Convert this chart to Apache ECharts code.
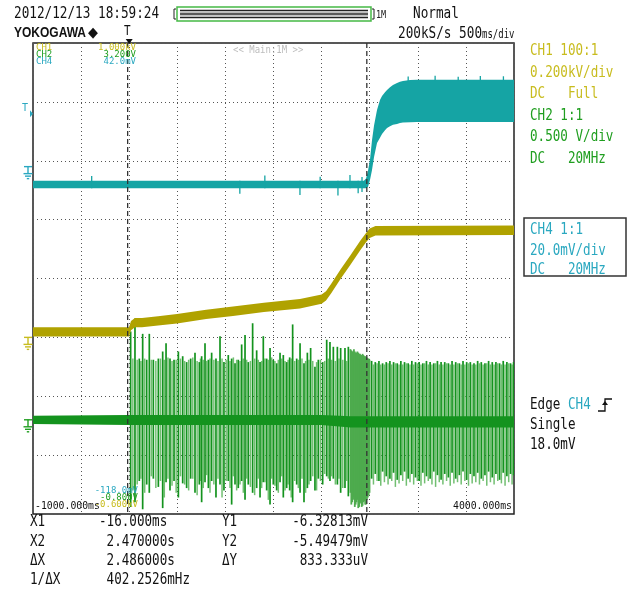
<!DOCTYPE html>
<html>
<head>
<meta charset="utf-8">
<script src="https://cdn.jsdelivr.net/npm/echarts@6/dist/echarts.min.js"></script>
<style>
  html, body { margin: 0; padding: 0; background: #fff; }
  #c { width: 629px; height: 590px; }
</style>
</head>
<body>
<div id="c"></div>
<script>
// ---- Time base (ms) ----
const timeMin = -1000, timeMax = 4000, timeDiv = 500;
const triggerTime = 0;
// ---- Screen range of each channel (bottom, top) ----
const ch1Range = [-0.6, 1.0];   // kV  (0.200 kV/div)
const ch2Range = [-0.8, 3.2];   // V   (0.500 V/div)
const ch4Range = [-118, 42];    // mV  (20.0 mV/div)
const trigLevel = 18.0;         // mV on CH4
// ---- Cursors ----
const cursorX = [-16, 2470];    // ms

// ---- CH4 (cyan) envelope, mV ----
const cyanT  = [-1000, 2440, 2462, 2482, 2503, 2524, 2545, 2576, 2607, 2628, 2659, 2680, 2711, 2742, 2784, 2815, 2846, 2919, 2992, 4000];
const cyanHi = [-4.8, -4.8, -4.0, -1.5, 2.3, 9.0, 14.0, 19.2, 22.6, 24.0, 25.3, 26.0, 27.0, 27.7, 28.4, 28.8, 29.1, 29.4, 29.5, 29.5];
const cyanLo = [-7.3, -7.3, -7.3, -6.9, -4.5, -1.1, 3.3, 8.0, 9.8, 11.1, 12.4, 13.1, 13.7, 14.2, 14.5, 14.8, 15.0, 15.1, 15.2, 15.2];
// CH4 noise ticks
const cyanNoiseT  = [-390, 1150, 1410, 1775, 1985, 2170, 2295, 2380, 2420, 2900, 3180, 3420, 3650, 3890];
const cyanNoiseHi = [-3.2, -4.8, -3.0, -4.8, -3.4, -4.8, -2.8, -4.8, -3.5, 30.6, 30.9, 30.5, 30.8, 30.7];
const cyanNoiseLo = [-7.3, -9.2, -7.3, -9.6, -7.3, -9.8, -7.3, -9.0, -8.6, 29.0, 29.0, 29.0, 29.0, 29.0];

// ---- CH1 (yellow) envelope, kV ----
const yellowT  = [-1000, -2, 19, 60, 133, 300, 497, 800, 1079, 1400, 1775, 2000, 2046, 2100, 2200, 2300, 2400, 2460, 2500, 2560, 4000];
const yellowHi = [0.034, 0.034, 0.056, 0.066, 0.066, 0.072, 0.079, 0.094, 0.105, 0.118, 0.130, 0.146, 0.157, 0.182, 0.232, 0.279, 0.327, 0.354, 0.370, 0.378, 0.380];
const yellowLo = [0.003, 0.003, 0.024, 0.034, 0.034, 0.040, 0.047, 0.062, 0.073, 0.086, 0.098, 0.114, 0.125, 0.150, 0.200, 0.247, 0.295, 0.322, 0.338, 0.346, 0.348];

// ---- CH2 (green) baseline band, V ----
const greenBaseT  = [-1000, 0, 2000, 2300, 4000];
const greenBaseHi = [0.035, 0.040, 0.040, 0.030, 0.030];
const greenBaseLo = [-0.035, -0.045, -0.045, -0.065, -0.065];

// ---- CH2 switching bursts: main strokes (t ms, top V, bottom V) ----
const greenSpikeT = [
  15, 60, 105, 140, 182, 209, 251, 303, 348, 383,
  424, 466, 511, 556, 597, 639, 684, 729, 753, 788,
  823, 857, 902, 944, 985, 1030, 1065, 1100, 1134, 1169,
  1204, 1238, 1283, 1325, 1360, 1394, 1429, 1464, 1498, 1533,
  1568, 1602, 1637, 1668, 1699, 1741, 1776, 1817, 1852, 1886,
  1931, 1966, 2011, 2053, 2087, 2122, 2164, 2198, 2243, 2278,
  2520, 2558, 2596, 2634, 2672, 2710, 2748, 2786, 2824, 2862,
  2900, 2938, 2976, 3014, 3052, 3090, 3128, 3166, 3204, 3242,
  3280, 3318, 3356, 3394, 3432, 3470, 3508, 3546, 3584, 3622,
  3660, 3698, 3736, 3774, 3812, 3850, 3888, 3926, 3964, 3996
];
const greenSpikeHi = [
  0.75, 0.86, 0.52, 0.73, 0.51, 0.73, 0.51, 0.52, 0.58, 0.65,
  0.52, 0.51, 0.58, 0.54, 0.49, 0.52, 0.57, 0.49, 0.54, 0.65,
  0.51, 0.57, 0.52, 0.71, 0.49, 0.55, 0.52, 0.48, 0.51, 0.64,
  0.72, 0.49, 0.82, 0.59, 0.49, 0.71, 0.52, 0.61, 0.51, 0.48,
  0.57, 0.55, 0.49, 0.53, 0.81, 0.52, 0.65, 0.48, 0.57, 0.61,
  0.45, 0.51, 0.49, 0.68, 0.66, 0.62, 0.62, 0.61, 0.61, 0.62,
  0.50, 0.49, 0.50, 0.48, 0.49, 0.50, 0.49, 0.48, 0.50, 0.49,
  0.48, 0.50, 0.49, 0.49, 0.48, 0.50, 0.49, 0.48, 0.50, 0.49,
  0.49, 0.48, 0.50, 0.49, 0.48, 0.50, 0.49, 0.49, 0.48, 0.50,
  0.49, 0.48, 0.50, 0.49, 0.49, 0.48, 0.50, 0.49, 0.48, 0.49
];
const greenSpikeLo = [
  -0.74, -0.70, -0.52, -0.76, -0.55, -0.62, -0.50, -0.57, -0.75, -0.53,
  -0.60, -0.52, -0.66, -0.54, -0.58, -0.50, -0.62, -0.55, -0.70, -0.53,
  -0.58, -0.52, -0.66, -0.55, -0.60, -0.52, -0.72, -0.55, -0.58, -0.52,
  -0.68, -0.55, -0.62, -0.58, -0.66, -0.53, -0.60, -0.72, -0.55, -0.60,
  -0.53, -0.66, -0.58, -0.60, -0.70, -0.55, -0.62, -0.70, -0.58, -0.52,
  -0.60, -0.50, -0.55, -0.48, -0.52, -0.50, -0.55, -0.62, -0.58, -0.65,
  -0.50, -0.46, -0.52, -0.44, -0.48, -0.50, -0.45, -0.51, -0.47, -0.44,
  -0.50, -0.46, -0.49, -0.52, -0.45, -0.48, -0.50, -0.44, -0.47, -0.51,
  -0.46, -0.49, -0.45, -0.50, -0.47, -0.44, -0.51, -0.46, -0.48, -0.45,
  -0.50, -0.47, -0.44, -0.49, -0.46, -0.51, -0.45, -0.48, -0.46, -0.47
];

// ---- CH2 dense burst just before the CH4 edge ----
const greenDenseT  = [2300, 2309, 2318, 2327, 2336, 2345, 2354, 2363, 2372, 2381, 2390, 2399, 2408, 2417, 2426, 2435, 2444, 2453, 2462, 2471, 2480, 2489, 2498];
const greenDenseHi = [0.60, 0.59, 0.58, 0.58, 0.60, 0.58, 0.57, 0.57, 0.58, 0.57, 0.56, 0.56, 0.55, 0.55, 0.56, 0.55, 0.54, 0.54, 0.53, 0.53, 0.52, 0.52, 0.51];
const greenDenseLo = [-0.62, -0.72, -0.70, -0.68, -0.66, -0.74, -0.72, -0.70, -0.68, -0.75, -0.74, -0.71, -0.70, -0.74, -0.73, -0.70, -0.69, -0.72, -0.72, -0.68, -0.66, -0.64, -0.62];

// ---- CH2 fainter in-between strokes ----
const greenFaintT = [
  38, 83, 122, 161, 230, 277, 325, 365, 403, 445,
  488, 533, 576, 618, 661, 706, 741, 770, 805, 840,
  880, 923, 965, 1008, 1048, 1083, 1117, 1152, 1186, 1221,
  1260, 1304, 1342, 1377, 1411, 1446, 1481, 1515, 1550, 1585,
  1620, 1652, 1684, 1720, 1758, 1796, 1834, 1869, 1908, 1948,
  1988, 2032, 2070, 2104, 2143, 2181, 2220, 2260,
  2539, 2577, 2615, 2653, 2691, 2729, 2767, 2805, 2843, 2881,
  2919, 2957, 2995, 3033, 3071, 3109, 3147, 3185, 3223, 3261,
  3299, 3337, 3375, 3413, 3451, 3489, 3527, 3565, 3603, 3641,
  3679, 3717, 3755, 3793, 3831, 3869, 3907, 3945, 3980
];
const greenFaintHi = [
  0.52, 0.51, 0.50, 0.52, 0.51, 0.50, 0.52, 0.51, 0.53, 0.50,
  0.51, 0.52, 0.50, 0.51, 0.53, 0.50, 0.52, 0.51, 0.50, 0.52,
  0.51, 0.50, 0.52, 0.51, 0.50, 0.53, 0.51, 0.50, 0.52, 0.51,
  0.50, 0.52, 0.51, 0.50, 0.52, 0.51, 0.53, 0.50, 0.51, 0.52,
  0.50, 0.51, 0.52, 0.50, 0.51, 0.52, 0.50, 0.51, 0.50, 0.49,
  0.51, 0.50, 0.52, 0.51, 0.50, 0.52, 0.51, 0.50,
  0.47, 0.48, 0.47, 0.47, 0.48, 0.47, 0.48, 0.47, 0.47, 0.48,
  0.47, 0.47, 0.48, 0.47, 0.48, 0.47, 0.47, 0.48, 0.47, 0.47,
  0.48, 0.47, 0.47, 0.48, 0.47, 0.47, 0.48, 0.47, 0.47, 0.48,
  0.47, 0.48, 0.47, 0.47, 0.48, 0.47, 0.47, 0.48, 0.47
];
const greenFaintLo = [
  -0.60, -0.55, -0.50, -0.62, -0.48, -0.58, -0.52, -0.66, -0.50, -0.56,
  -0.62, -0.48, -0.55, -0.60, -0.50, -0.64, -0.52, -0.58, -0.47, -0.62,
  -0.55, -0.50, -0.66, -0.52, -0.58, -0.48, -0.60, -0.55, -0.62, -0.50,
  -0.57, -0.64, -0.50, -0.58, -0.53, -0.68, -0.50, -0.56, -0.62, -0.48,
  -0.60, -0.55, -0.66, -0.52, -0.58, -0.50, -0.62, -0.55, -0.48, -0.60,
  -0.52, -0.46, -0.50, -0.48, -0.55, -0.50, -0.58, -0.52,
  -0.55, -0.52, -0.56, -0.53, -0.55, -0.52, -0.57, -0.54, -0.52, -0.56,
  -0.53, -0.55, -0.52, -0.56, -0.54, -0.52, -0.55, -0.57, -0.53, -0.55,
  -0.52, -0.56, -0.54, -0.53, -0.55, -0.52, -0.56, -0.54, -0.53, -0.55,
  -0.52, -0.56, -0.53, -0.55, -0.52, -0.54, -0.56, -0.53, -0.55
];

// ---- Colours ----
const COL = {
  ch1Trace: '#b0a200', ch1Text: '#c8bc1e',
  ch2Dark: '#14931e', ch2Mid: '#4eab4e', ch2Faint: '#72bf72', ch2Text: '#1f9e1f',
  ch4Trace: '#15a4a4', ch4Text: '#2aa8c0',
  grid: '#555'
};
const MONO = '"DejaVu Sans Mono", "Liberation Mono", monospace';

// Envelope polygon drawn between Hi and Lo curves
function bandRenderer(T, Hi, Lo, color) {
  return function (params, api) {
    const pts = [];
    for (let i = 0; i < T.length; i++) pts.push(api.coord([T[i], Hi[i]]));
    for (let i = T.length - 1; i >= 0; i--) pts.push(api.coord([T[i], Lo[i]]));
    return { type: 'polygon', shape: { points: pts }, style: { fill: color } };
  };
}
// Vertical stroke from value(1) to value(2) at time value(0)
function strokeRenderer(color, width) {
  return function (params, api) {
    const a = api.coord([api.value(0), api.value(1)]);
    const b = api.coord([api.value(0), api.value(2)]);
    return { type: 'line', shape: { x1: a[0], y1: a[1], x2: b[0], y2: b[1] },
             style: { stroke: color, lineWidth: width } };
  };
}
function rows(T, Hi, Lo) { return T.map((t, i) => [t, Hi[i], Lo[i]]); }

// Ground reference symbol at the channel's 0 level, left of the screen
function groundRenderer(color) {
  return function (params, api) {
    const p = api.coord([timeMin, 0]);
    const x = p[0] - 5, y = p[1];
    const ln = (x1, y1, x2, y2) => ({ type: 'line', shape: { x1, y1, x2, y2 }, style: { stroke: color, lineWidth: 1.4 } });
    return { type: 'group', children: [
      ln(x - 4, y, x + 4, y), ln(x, y, x, y + 7),
      ln(x - 4.5, y + 7, x + 4.5, y + 7), ln(x - 3, y + 9.5, x + 3, y + 9.5), ln(x - 1.2, y + 12, x + 1.2, y + 12)
    ] };
  };
}

const chart = echarts.init(document.getElementById('c'), null, { renderer: 'canvas' });

const hiddenY = (r) => ({ type: 'value', min: r[0], max: r[1], show: false, splitLine: { show: false } });

const option = {
  animation: false,
  backgroundColor: '#ffffff',
  grid: { left: 33, top: 43, width: 481, height: 471, show: true, borderColor: '#222', borderWidth: 1.5, backgroundColor: '#fff' },
  xAxis: {
    type: 'value', min: timeMin, max: timeMax, interval: timeDiv,
    axisLine: { show: false }, axisTick: { show: false }, axisLabel: { show: false },
    splitLine: { show: true, lineStyle: { color: COL.grid, type: [1, 3], width: 1 } }
  },
  yAxis: [
    { type: 'value', min: -4, max: 4, interval: 1,
      axisLine: { show: false }, axisTick: { show: false }, axisLabel: { show: false },
      splitLine: { show: true, lineStyle: { color: COL.grid, type: [1, 3], width: 1 } } },
    hiddenY(ch1Range), hiddenY(ch2Range), hiddenY(ch4Range)
  ],
  series: [
    { type: 'custom', name: 'CH2 faint', yAxisIndex: 2, z: 2, clip: true,
      renderItem: strokeRenderer(COL.ch2Faint, 1.5), encode: { x: 0, y: [1, 2] },
      data: rows(greenFaintT, greenFaintHi, greenFaintLo) },
    { type: 'custom', name: 'CH2 dense', yAxisIndex: 2, z: 2, clip: true,
      renderItem: strokeRenderer(COL.ch2Mid, 1.8), encode: { x: 0, y: [1, 2] },
      data: rows(greenDenseT, greenDenseHi, greenDenseLo) },
    { type: 'custom', name: 'CH2', yAxisIndex: 2, z: 3, clip: true,
      renderItem: strokeRenderer(COL.ch2Dark, 1.7), encode: { x: 0, y: [1, 2] },
      data: rows(greenSpikeT, greenSpikeHi, greenSpikeLo) },
    { type: 'custom', name: 'CH2 base', yAxisIndex: 2, z: 4, clip: true,
      renderItem: bandRenderer(greenBaseT, greenBaseHi, greenBaseLo, COL.ch2Dark), encode: { x: 0, y: 1 },
      data: [[greenBaseT[0], greenBaseHi[0]]] },
    { type: 'custom', name: 'CH1', yAxisIndex: 1, z: 5, clip: true,
      renderItem: bandRenderer(yellowT, yellowHi, yellowLo, COL.ch1Trace), encode: { x: 0, y: 1 },
      data: [[yellowT[0], yellowHi[0]]] },
    { type: 'custom', name: 'CH4', yAxisIndex: 3, z: 6, clip: true,
      renderItem: bandRenderer(cyanT, cyanHi, cyanLo, COL.ch4Trace), encode: { x: 0, y: 1 },
      data: [[cyanT[0], cyanHi[0]]] },
    { type: 'custom', name: 'CH4 noise', yAxisIndex: 3, z: 6, clip: true,
      renderItem: strokeRenderer(COL.ch4Trace, 1.3), encode: { x: 0, y: [1, 2] },
      data: rows(cyanNoiseT, cyanNoiseHi, cyanNoiseLo) },
    // time cursors X1 / X2
    { type: 'custom', name: 'cursors', yAxisIndex: 0, z: 8, clip: true,
      renderItem: function (params, api) {
        const a = api.coord([api.value(0), 4]);
        const b = api.coord([api.value(0), -4]);
        return { type: 'line', shape: { x1: a[0], y1: a[1], x2: b[0], y2: b[1] },
                 style: { stroke: '#333', lineWidth: 1.3, lineDash: [5, 3] } };
      },
      encode: { x: 0, y: 1 }, data: cursorX.map(v => [v, 0]) },
    // ground symbols
    { type: 'custom', yAxisIndex: 1, z: 9, clip: false, renderItem: groundRenderer(COL.ch1Text), data: [[timeMin, 0]] },
    { type: 'custom', yAxisIndex: 2, z: 9, clip: false, renderItem: groundRenderer(COL.ch2Text), data: [[timeMin, 0]] },
    { type: 'custom', yAxisIndex: 3, z: 9, clip: false, renderItem: groundRenderer(COL.ch4Text), data: [[timeMin, 0]] },
    // trigger level marker on CH4
    { type: 'custom', yAxisIndex: 3, z: 9, clip: false,
      renderItem: function (params, api) {
        const p = api.coord([timeMin, api.value(1)]);
        return { type: 'group', children: [
          { type: 'text', x: p[0] - 8, y: p[1] - 5, style: { text: 'T', fill: COL.ch4Text, font: '10px ' + MONO, textAlign: 'center', textVerticalAlign: 'middle' } },
          { type: 'polygon', shape: { points: [[p[0] - 3, p[1] - 3.5], [p[0], p[1]], [p[0] - 3, p[1] + 3.5]] }, style: { fill: COL.ch4Text } }
        ] };
      },
      data: [[timeMin, trigLevel]] },
    // trigger position marker above the screen
    { type: 'custom', yAxisIndex: 0, z: 9, clip: false,
      renderItem: function (params, api) {
        const p = api.coord([api.value(0), 4]);
        return { type: 'group', children: [
          { type: 'text', x: p[0] - 2, y: p[1] - 11, scaleY: 1.2, style: { text: 'T', fill: '#111', font: '11px ' + MONO, textAlign: 'center', textVerticalAlign: 'middle' } },
          { type: 'polygon', shape: { points: [[p[0] - 3.5, p[1] - 4], [p[0] + 3.5, p[1] - 4], [p[0], p[1] + 1]] }, style: { fill: '#111' } }
        ] };
      },
      data: [[triggerTime, 4]] }
  ],
  graphic: []
};

// ---- Text and panel decorations ----
function txt(s, x, y, color, size, o) {
  o = o || {};
  return { type: 'text', x: x, y: y, scaleY: o.sy || 1.28, z: 100,
    style: { text: s, fill: color, font: (o.bold ? 'bold ' : '') + size + 'px ' + (o.family || MONO),
             textAlign: o.align || 'left', textVerticalAlign: 'middle' } };
}
const G = option.graphic;
// header
G.push(txt('2012/12/13 18:59:24', 14, 14, '#111', 12.7));
G.push(txt('Normal', 413, 14, '#111', 12.7));
G.push(txt('200kS/s 500', 398, 34, '#111', 12.7));
G.push(txt('ms/div', 482, 35, '#111', 9, { sy: 1.3 }));
G.push(txt('YOKOGAWA', 14, 33, '#111', 12, { bold: true, family: '"Liberation Sans", Arial, sans-serif', sy: 1.15 }));
G.push(txt('\u25C6', 88, 33, '#111', 13, { family: '"DejaVu Sans", sans-serif', sy: 1.1 }));
// memory bar
G.push({ type: 'rect', z: 100, shape: { x: 177, y: 7, width: 194, height: 14 }, style: { fill: '#fff', stroke: '#46b946', lineWidth: 1.5 } });
[10.5, 14, 17.5].forEach(y => G.push({ type: 'line', z: 101, shape: { x1: 180, y1: y, x2: 368, y2: y }, style: { stroke: '#222', lineWidth: 1.6 } }));
[12.3, 15.8].forEach(y => G.push({ type: 'line', z: 101, shape: { x1: 180, y1: y, x2: 368, y2: y }, style: { stroke: '#aaa', lineWidth: 1 } }));
G.push({ type: 'polyline', z: 101, shape: { points: [[176, 9], [174, 9], [174, 19], [176, 19]] }, style: { stroke: '#222', lineWidth: 1, fill: null } });
G.push({ type: 'polyline', z: 101, shape: { points: [[372, 9], [374, 9], [374, 19], [372, 19]] }, style: { stroke: '#222', lineWidth: 1, fill: null } });
G.push(txt('1M', 376, 15, '#222', 8.5, { sy: 1.3 }));

// on-screen channel range labels
G.push(txt('CH1', 36, 48, COL.ch1Text, 9, { sy: 1 }));
G.push(txt('CH2', 36, 55, COL.ch2Text, 9, { sy: 1 }));
G.push(txt('CH4', 36, 62, COL.ch4Text, 9, { sy: 1 }));
G.push(txt('1.000kV', 136, 48, COL.ch1Text, 9, { sy: 1, align: 'right' }));
G.push(txt('3.200V', 136, 55, COL.ch2Text, 9, { sy: 1, align: 'right' }));
G.push(txt('42.0mV', 136, 62, COL.ch4Text, 9, { sy: 1, align: 'right' }));
G.push(txt('<< Main:1M >>', 233, 50, '#bdbdbd', 9, { sy: 1.1 }));
G.push(txt('-118.0mV', 138, 491, COL.ch4Text, 9, { sy: 1, align: 'right' }));
G.push(txt('-0.800V', 138, 498, COL.ch2Text, 9, { sy: 1, align: 'right' }));
G.push(txt('-0.600kV', 138, 505, COL.ch1Text, 9, { sy: 1, align: 'right' }));
G.push(txt('-1000.000ms', 35, 506, '#111', 9.8, { sy: 1.15 }));
G.push(txt('4000.000ms', 512, 506, '#111', 9.8, { sy: 1.15, align: 'right' }));

// right-hand settings panel
G.push(txt('CH1 100:1', 530, 51, COL.ch1Text, 12.6));
G.push(txt('0.200kV/div', 530, 73, COL.ch1Text, 12.6));
G.push(txt('DC   Full', 530, 94, COL.ch1Text, 12.6));
G.push(txt('CH2 1:1', 530, 116, COL.ch2Text, 12.6));
G.push(txt('0.500 V/div', 530, 137, COL.ch2Text, 12.6));
G.push(txt('DC   20MHz', 530, 159, COL.ch2Text, 12.6));
G.push({ type: 'rect', z: 100, shape: { x: 524, y: 218, width: 102, height: 58 }, style: { fill: 'none', stroke: '#333', lineWidth: 1.5 } });
G.push(txt('CH4 1:1', 530, 230, COL.ch4Text, 12.6));
G.push(txt('20.0mV/div', 530, 251, COL.ch4Text, 12.6));
G.push(txt('DC   20MHz', 530, 270, COL.ch4Text, 12.6));
G.push(txt('Edge ', 530, 405, '#111', 12.6));
G.push(txt('CH4', 568, 405, COL.ch4Text, 12.6));
G.push({ type: 'polyline', z: 100, shape: { points: [[598, 411], [605, 411], [605, 399], [612, 399]] }, style: { stroke: '#111', lineWidth: 1.3, fill: null } });
G.push({ type: 'polygon', z: 100, shape: { points: [[602, 405], [608, 405], [605, 401]] }, style: { fill: '#111' } });
G.push(txt('Single', 530, 425, '#111', 12.6));
G.push(txt('18.0mV', 530, 445, '#111', 12.6));

// cursor readout
const rowY = [522, 542, 561, 580];
G.push(txt('X1', 30, rowY[0], '#111', 12.6));
G.push(txt('X2', 30, rowY[1], '#111', 12.6));
G.push(txt('\u0394X', 30, rowY[2], '#111', 12.6));
G.push(txt('1/\u0394X', 30, rowY[3], '#111', 12.6));
G.push(txt('-16.000ms', 99, rowY[0], '#111', 12.6));
G.push(txt(' 2.470000s', 99, rowY[1], '#111', 12.6));
G.push(txt(' 2.486000s', 99, rowY[2], '#111', 12.6));
G.push(txt(' 402.2526mHz', 99, rowY[3], '#111', 12.6));
G.push(txt('Y1', 222, rowY[0], '#111', 12.6));
G.push(txt('Y2', 222, rowY[1], '#111', 12.6));
G.push(txt('\u0394Y', 222, rowY[2], '#111', 12.6));
G.push(txt('-6.32813mV', 368, rowY[0], '#111', 12.6, { align: 'right' }));
G.push(txt('-5.49479mV', 368, rowY[1], '#111', 12.6, { align: 'right' }));
G.push(txt('833.333uV', 368, rowY[2], '#111', 12.6, { align: 'right' }));

chart.setOption(option);
</script>
</body>
</html>
